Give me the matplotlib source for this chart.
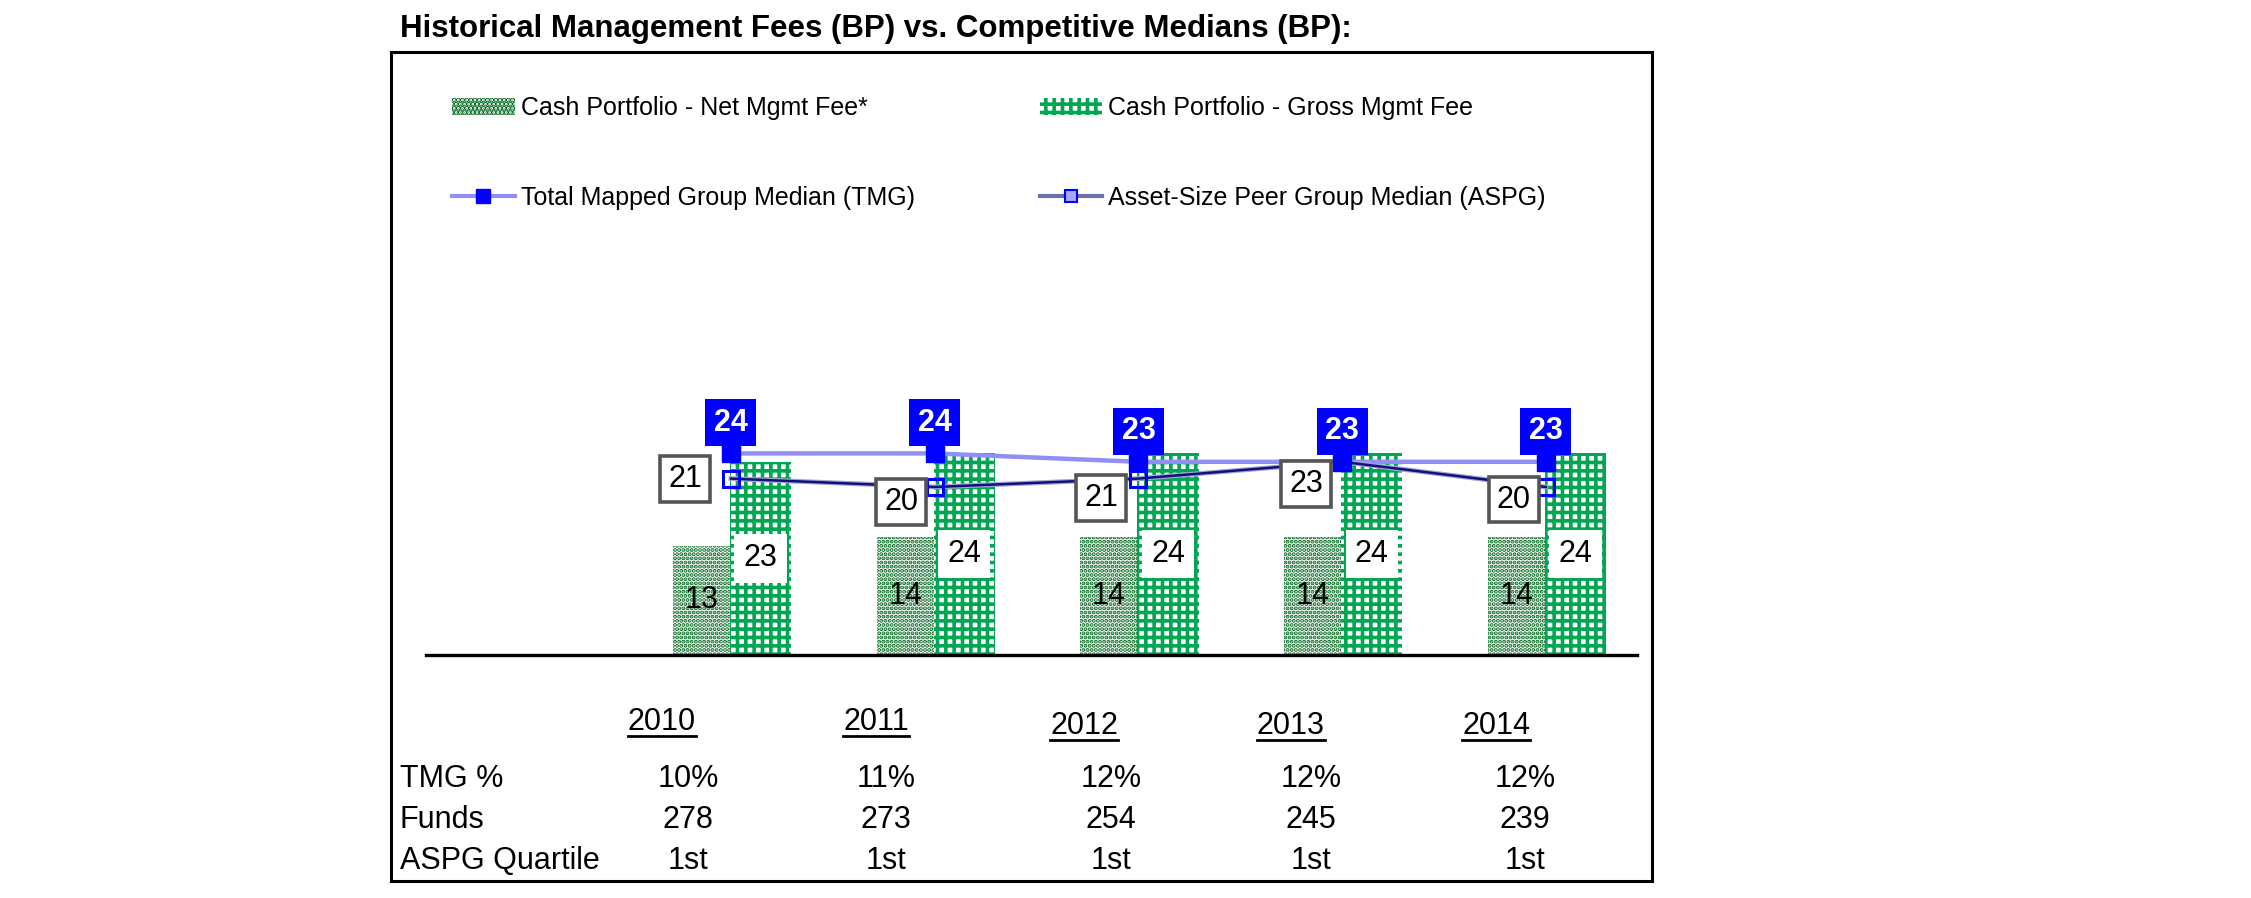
import numpy as np
import matplotlib.pyplot as plt
from matplotlib.patches import Patch, Rectangle
from matplotlib.lines import Line2D

# data
years = ['2010', '2011', '2012', '2013', '2014']
net_fee = [13, 14, 14, 14, 14]
gross_fee = [23, 24, 24, 24, 24]
tmg_median = [24, 24, 23, 23, 23]
aspg_median = [21, 20, 21, 23, 20]
tmg_pct = ['10%', '11%', '12%', '12%', '12%']
funds = ['278', '273', '254', '245', '239']
aspg_quartile = ['1st', '1st', '1st', '1st', '1st']
row_names = ['TMG %', 'Funds', 'ASPG Quartile']

W, H = 2251, 898
plt.rcParams['font.family'] = ['Liberation Sans', 'DejaVu Sans']

green_net = '#00661c'
green_gross = '#00a651'


def fx(px):
    return px / W


def fy(py):
    return 1 - py / H


fig = plt.figure(figsize=(W / 100, H / 100), dpi=100)

# chart area: baseline at 655 px, 8.4 px per basis point
ax = fig.add_axes([fx(426), fy(655), fx(1637) - fx(426), (655 - 250) / H])
x = np.arange(len(years))
ax.set_xlim(-1.497, 4.447)
ax.set_ylim(0, 405 / 8.4)
for s in ['top', 'left', 'right']:
    ax.spines[s].set_visible(False)
ax.spines['bottom'].set_linewidth(2.4)
ax.set_xticks([])
ax.set_yticks([])
ax.patch.set_alpha(0)

plt.rcParams['hatch.linewidth'] = 2.0
net = ax.bar(x - 0.145, net_fee, 0.28, facecolor='white', edgecolor=green_net,
             linewidth=0, hatch='....', zorder=2)
for b in net:
    if hasattr(b, 'set_hatch_linewidth'):
        b.set_hatch_linewidth(2.0)
plt.rcParams['hatch.linewidth'] = 2.6
gross = ax.bar(x + 0.145, gross_fee, 0.30, facecolor='white', edgecolor=green_gross,
               linewidth=0, hatch='++', zorder=2)
for b in gross:
    if hasattr(b, 'set_hatch_linewidth'):
        b.set_hatch_linewidth(2.6)

ax.plot(x, tmg_median, color='#8f8ff5', lw=3.2, zorder=4)
ax.plot(x, tmg_median, ls='none', marker='s', ms=13, mfc='#0000ff', mec='#0000ff', zorder=5)
ax.plot(x, aspg_median, color='#a5a5d0', lw=3.5, zorder=4)
ax.plot(x, aspg_median, color='#101080', lw=1.8, zorder=4)
ax.plot(x, aspg_median, ls='none', marker='s', ms=11, mfc='none', mec='#0000ff', mew=2.2, zorder=5)

# label offsets (points) for the ASPG boxes, left of each marker
aspg_offsets = [(-33, 0), (-24, -11), (-27, -14), (-26, -16), (-23, -9)]

for i in x:
    ax.text(i - 0.145, net_fee[i] / 2, str(net_fee[i]), ha='center', va='center',
            fontsize=22, zorder=3)
    ax.text(i + 0.145, gross_fee[i] / 2, str(gross_fee[i]), ha='center', va='center',
            fontsize=22, zorder=3,
            bbox=dict(boxstyle='square,pad=0.3', fc='white', ec='none'))
    ax.annotate(str(tmg_median[i]), (i, tmg_median[i]), xytext=(0, 22),
                textcoords='offset points', ha='center', va='center', fontsize=22,
                fontweight='bold', color='white', zorder=6,
                bbox=dict(boxstyle='square,pad=0.28', fc='#0000ff', ec='none'))
    ax.annotate(str(aspg_median[i]), (i, aspg_median[i]), xytext=aspg_offsets[i],
                textcoords='offset points', ha='center', va='center', fontsize=22,
                zorder=6,
                bbox=dict(boxstyle='square,pad=0.26', fc='white', ec='#555555', lw=2.6))

# outer frame and title
fig.add_artist(Rectangle((fx(391), fy(881)), fx(1652) - fx(391), (881 - 52) / H,
                         transform=fig.transFigure, fill=False, ec='black', lw=2.2))
fig.text(fx(400), fy(37), 'Historical Management Fees (BP) vs. Competitive Medians (BP):',
         fontsize=22.5, fontweight='bold', va='baseline')

# legend
handles = [
    Patch(facecolor='white', edgecolor=green_net, hatch='....', lw=0),
    Line2D([], [], color='#8f8ff5', lw=3, marker='s', ms=10, mfc='#0000ff', mec='#0000ff'),
    Patch(facecolor='white', edgecolor=green_gross, hatch='++', lw=0),
    Line2D([], [], color='#7070a8', lw=3, marker='s', ms=9, mfc='#a8a8ff', mec='#0000ff', mew=1.5),
]
labels = ['Cash Portfolio - Net Mgmt Fee*', 'Total Mapped Group Median (TMG)',
          'Cash Portfolio - Gross Mgmt Fee', 'Asset-Size Peer Group Median (ASPG)']
fig.legend(handles, labels, ncol=2, loc='upper left', bbox_to_anchor=(fx(452), fy(96)),
           frameon=False, fontsize=18, handlelength=2.5, handletextpad=0.25,
           columnspacing=5.0, labelspacing=2.64, borderpad=0, borderaxespad=0)

# table under the chart
year_x = [662, 876, 1084, 1291, 1496]
year_base = [730, 730, 734, 734, 734]
value_x = [688, 886, 1111, 1311, 1525]
row_base = [787, 828, 869]

year_texts = []
for xp, yb, yr in zip(year_x, year_base, years):
    year_texts.append(fig.text(fx(xp), fy(yb), yr, fontsize=22, ha='center', va='baseline'))

for name, yb, vals in zip(row_names, row_base, [tmg_pct, funds, aspg_quartile]):
    fig.text(fx(400), fy(yb), name, fontsize=22, ha='left', va='baseline')
    for xp, v in zip(value_x, vals):
        fig.text(fx(xp), fy(yb), v, fontsize=22, ha='center', va='baseline')

fig.canvas.draw()
renderer = fig.canvas.get_renderer()
for t, yb in zip(year_texts, year_base):
    bb = t.get_window_extent(renderer)
    fig.add_artist(Line2D([bb.x0 / W, bb.x1 / W], [fy(yb + 6), fy(yb + 6)],
                          transform=fig.transFigure, color='black', lw=2))

fig.savefig('out.png', dpi=100)
